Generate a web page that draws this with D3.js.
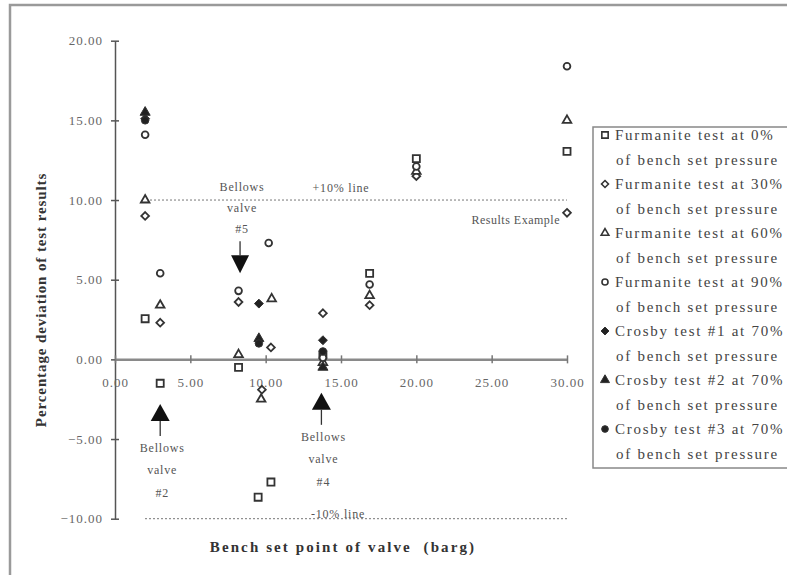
<!DOCTYPE html>
<html>
<head>
<meta charset="utf-8">
<script src="https://cdn.jsdelivr.net/npm/d3@7"></script>
<style>
  body { margin: 0; background: #fff; }
  svg { display: block; font-family: "Liberation Serif", "DejaVu Serif", serif; }
</style>
</head>
<body>
<div id="chart"></div>
<script>
var width = 787,
    height = 575;

// [bench set point (barg), % deviation]
var furm0 = [[2, 2.55], [3, -1.5], [8.2, -0.5], [9.5, -8.65], [10.35, -7.7], [13.8, 0.3], [16.9, 5.4], [20, 12.6], [30, 13.05]];
var furm30 = [[2, 9.0], [3, 2.3], [8.2, 3.6], [9.75, -1.9], [10.35, 0.75], [13.8, 2.9], [16.9, 3.4], [20, 11.5], [30, 9.2]];
var furm60 = [[2, 10.0], [3, 3.4], [8.2, 0.3], [10.4, 3.8], [9.7, -2.5], [13.8, -0.2], [16.9, 4.0], [20, 11.8], [30, 15.0]];
var furm90 = [[2, 14.1], [3, 5.4], [8.2, 4.3], [10.2, 7.3], [13.8, 0.1], [16.9, 4.7], [20, 12.1], [30, 18.4]];
var crosby1 = [[2, 15.1], [9.55, 3.5], [13.8, 1.2]];
var crosby2 = [[2, 15.5], [9.55, 1.3], [13.8, -0.5]];
var crosby3 = [[2, 15.0], [9.55, 1.0], [13.8, 0.5]];

var legendLabels = [
    ["Furmanite test at 0%", "of bench set pressure"],
    ["Furmanite test at 30%", "of bench set pressure"],
    ["Furmanite test at 60%", "of bench set pressure"],
    ["Furmanite test at 90%", "of bench set pressure"],
    ["Crosby test #1 at 70%", "of bench set pressure"],
    ["Crosby test #2 at 70%", "of bench set pressure"],
    ["Crosby test #3 at 70%", "of bench set pressure"]
];

var xTicks = [0, 5, 10, 15, 20, 25, 30];
var yTicks = [-10, -5, 0, 5, 10, 15, 20];

// reference lines and annotations
var limitLines = [{v: 10, label: "+10% line", at: 15}, {v: -10, label: "-10% line", at: 14.8}];
var bellows = [
    {name: "#5", x: 8.3, y: 5.4, dir: "down"},
    {name: "#2", x: 3.0, y: -2.8, dir: "up"},
    {name: "#4", x: 13.7, y: -2.1, dir: "up"}
];

// rhombus like the original (a square turned 45 degrees)
var symbolRhombus = {
    draw: function (ctx, size) {
        var r = Math.sqrt(size / 2);
        ctx.moveTo(0, -r);
        ctx.lineTo(r, 0);
        ctx.lineTo(0, r);
        ctx.lineTo(-r, 0);
        ctx.closePath();
    }
};

var series = [
    {data: furm0, sym: d3.symbolSquare, fill: false, size: 50},
    {data: furm30, sym: symbolRhombus, fill: false, size: 30},
    {data: furm60, sym: d3.symbolTriangle, fill: false, size: 32},
    {data: furm90, sym: d3.symbolCircle, fill: false, size: 36},
    {data: crosby1, sym: symbolRhombus, fill: true, size: 40},
    {data: crosby2, sym: d3.symbolTriangle, fill: true, size: 44},
    {data: crosby3, sym: d3.symbolCircle, fill: true, size: 44}
];

var x = d3.scaleLinear().domain([0, 30]).range([115, 567]);
var y = d3.scaleLinear().domain([-10, 20]).range([518.7, 40.7]);

var svg = d3.select("#chart").append("svg")
    .attr("width", width)
    .attr("height", height);

// outer frame (runs past the right/bottom edge)
svg.append("rect")
    .attr("x", 10).attr("y", 5)
    .attr("width", 820).attr("height", 620)
    .attr("fill", "none")
    .attr("stroke", "#9a9a9a")
    .attr("stroke-width", 2.5);

// dotted +/-10% lines
svg.selectAll(".limit")
    .data(limitLines)
    .enter().append("line")
    .attr("x1", function (d) { return d.v > 0 ? 150 : 145; })
    .attr("x2", x(30))
    .attr("y1", function (d) { return y(d.v); })
    .attr("y2", function (d) { return y(d.v); })
    .attr("stroke", "#777")
    .attr("stroke-width", 1)
    .attr("stroke-dasharray", "2,2");

svg.selectAll(".limitLabel")
    .data(limitLines)
    .enter().append("text")
    .attr("x", function (d) { return x(d.at); })
    .attr("y", function (d) { return y(d.v) + (d.v > 0 ? -8 : -1); })
    .attr("text-anchor", "middle")
    .style("font-size", "12px")
    .style("letter-spacing", "0.8px")
    .style("fill", "#555")
    .text(function (d) { return d.label; });

// axes
var yAxis = svg.append("g")
    .attr("transform", "translate(" + x(0) + ",0)")
    .call(d3.axisLeft(y).tickValues(yTicks).tickFormat(d3.format(".2f")).tickSizeInner(4).tickSizeOuter(0).tickPadding(8));
yAxis.select(".domain").attr("stroke", "#555").attr("stroke-width", 1.5);
yAxis.selectAll(".tick line").attr("x1", 4).attr("stroke", "#555").attr("stroke-width", 1.5);
yAxis.selectAll(".tick text")
    .style("font-family", "Liberation Serif")
    .style("font-size", "13px")
    .style("letter-spacing", "1px")
    .style("fill", "#666");

var xAxis = svg.append("g")
    .attr("transform", "translate(0," + y(0) + ")")
    .call(d3.axisBottom(x).tickValues(xTicks).tickFormat(d3.format(".2f")).tickSizeInner(4).tickSizeOuter(0).tickPadding(14));
xAxis.select(".domain").attr("stroke", "#8a8a8a").attr("stroke-width", 2.5);
xAxis.selectAll(".tick line").attr("y1", -4).attr("stroke", "#777").attr("stroke-width", 1.5);
xAxis.selectAll(".tick text")
    .style("font-family", "Liberation Serif")
    .style("font-size", "13px")
    .style("letter-spacing", "1px")
    .style("fill", "#666");

// axis titles
svg.append("text")
    .attr("x", 343).attr("y", 552)
    .attr("text-anchor", "middle")
    .attr("xml:space", "preserve")
    .style("white-space", "pre")
    .style("font-size", "15px")
    .style("font-weight", "bold")
    .style("letter-spacing", "2.1px")
    .style("fill", "#333")
    .text("Bench set point of valve  (barg)");

svg.append("text")
    .attr("transform", "translate(46,300) rotate(-90)")
    .attr("text-anchor", "middle")
    .style("font-size", "15px")
    .style("font-weight", "bold")
    .style("letter-spacing", "0.9px")
    .style("fill", "#333")
    .text("Percentage deviation of test results");

// "Results Example"
svg.append("text")
    .attr("x", 560).attr("y", 224)
    .attr("text-anchor", "end")
    .style("font-size", "12px")
    .style("letter-spacing", "0.5px")
    .style("fill", "#555")
    .text("Results Example");

// bellows valve arrows
bellows.forEach(function (b) {
    var cx = x(b.x), cy = y(b.y);
    var g = svg.append("g");
    var tip, base, stemEnd, firstLine, step;
    if (b.dir === "down") {
        tip = cy; base = cy - 18; stemEnd = base - 14;
        g.append("line").attr("x1", cx).attr("x2", cx).attr("y1", stemEnd).attr("y2", base)
            .attr("stroke", "#333").attr("stroke-width", 1.3);
        g.append("path").attr("d", "M" + (cx - 9) + "," + base + "L" + (cx + 9) + "," + base + "L" + cx + "," + tip + "Z")
            .attr("fill", "#111");
        firstLine = stemEnd - 50;
        step = 21;
    } else {
        tip = cy; base = cy + 17; stemEnd = base + 15;
        g.append("line").attr("x1", cx).attr("x2", cx).attr("y1", base).attr("y2", stemEnd)
            .attr("stroke", "#333").attr("stroke-width", 1.3);
        g.append("path").attr("d", "M" + (cx - 9.5) + "," + base + "L" + (cx + 9.5) + "," + base + "L" + cx + "," + tip + "Z")
            .attr("fill", "#111");
        firstLine = stemEnd + 16;
        step = 22.5;
    }
    ["Bellows", "valve", b.name].forEach(function (t, i) {
        g.append("text")
            .attr("x", cx + 2)
            .attr("y", firstLine + i * step)
            .attr("text-anchor", "middle")
            .style("font-size", "12px")
            .style("letter-spacing", "0.8px")
            .style("fill", "#555")
            .text(t);
    });
});

// data points
series.forEach(function (s) {
    svg.append("g").selectAll("path")
        .data(s.data)
        .enter().append("path")
        .attr("transform", function (d) { return "translate(" + x(d[0]) + "," + y(d[1]) + ")"; })
        .attr("d", d3.symbol().type(s.sym).size(s.size))
        .attr("fill", s.fill ? "#222" : "#fff")
        .attr("stroke", "#333")
        .attr("stroke-width", s.fill ? 1 : 1.8);
});

// legend
var legend = svg.append("g");
legend.append("rect")
    .attr("x", 593).attr("y", 127)
    .attr("width", 220).attr("height", 341)
    .attr("fill", "#fff")
    .attr("stroke", "#888")
    .attr("stroke-width", 1.5);

series.forEach(function (s, i) {
    var ly = 135 + i * 49;
    legend.append("path")
        .attr("transform", "translate(605," + ly + ")")
        .attr("d", d3.symbol().type(s.sym).size(s.size * 0.8))
        .attr("fill", s.fill ? "#222" : "#fff")
        .attr("stroke", "#333")
        .attr("stroke-width", s.fill ? 1 : 1.6);
    legendLabels[i].forEach(function (t, j) {
        legend.append("text")
            .attr("x", j === 0 ? 615 : 616)
            .attr("y", ly + 5 + j * 24.5)
            .style("font-size", "15px")
            .style("letter-spacing", "1.75px")
            .style("fill", "#444")
            .text(t);
    });
});
</script>
</body>
</html>
